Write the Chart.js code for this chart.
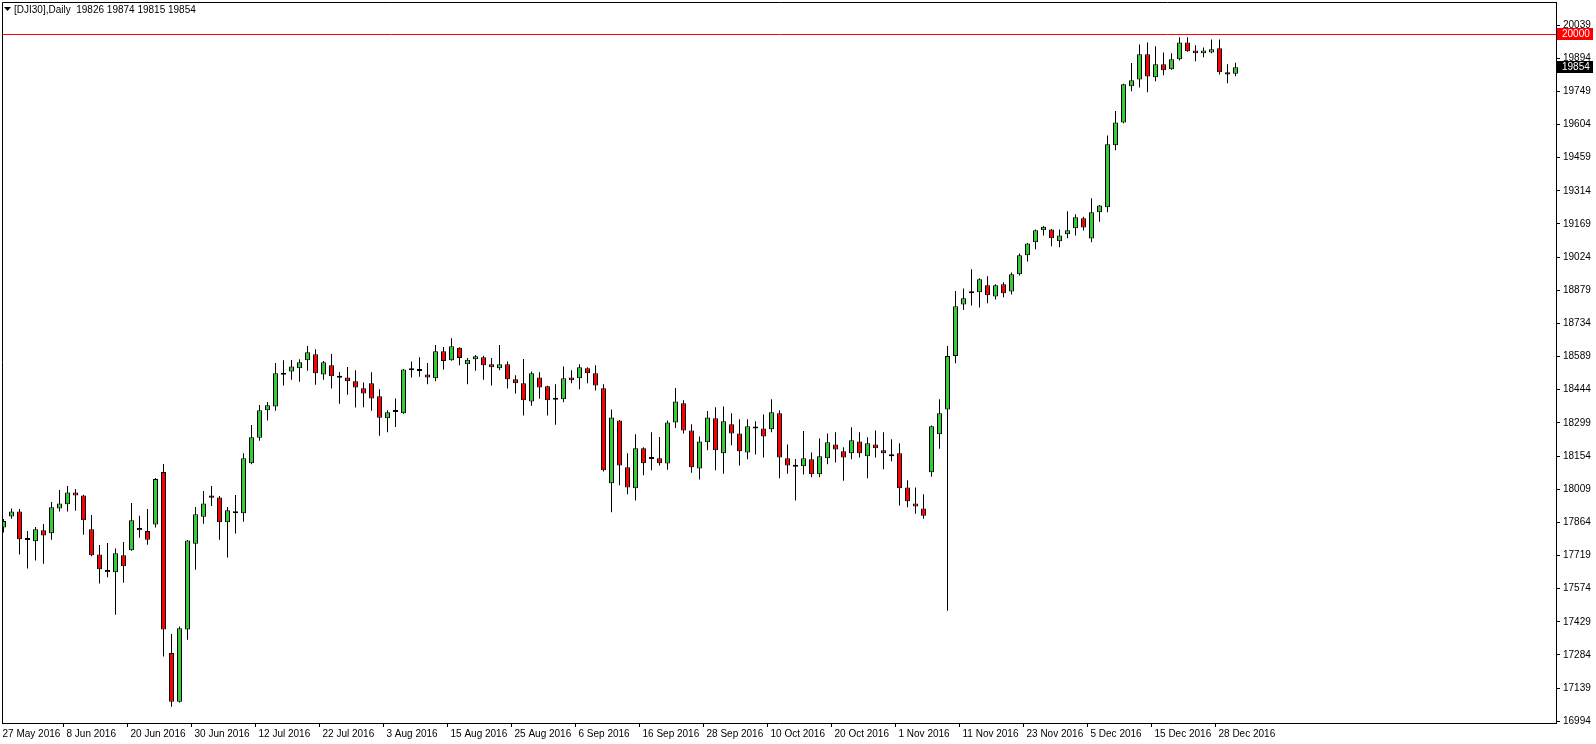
<!DOCTYPE html>
<html>
<head>
<meta charset="utf-8">
<title>DJI30 Daily</title>
<script src="https://cdn.jsdelivr.net/npm/chart.js@4.4.1/dist/chart.umd.min.js"></script>
<style>
  html, body { margin: 0; padding: 0; background: #fff; }
  canvas { display: block; }
</style>
</head>
<body>
<canvas id="priceChart" width="1596" height="744"></canvas>
<script>
const symbolTitle = "[DJI30],Daily";

// daily candles, 27 May 2016 .. 30 Dec 2016
const opens = [
  17842, 17890, 17912, 17790, 17781, 17829, 17816, 17925, 17943, 17995,
  17982, 17834, 17724, 17656, 17646, 17720, 17742, 17839, 17826, 17855,
  18084, 17293, 17080, 17395, 17771, 17889, 17982, 17973, 17864, 17912,
  17904, 18122, 18234, 18354, 18371, 18512, 18524, 18538, 18573, 18599,
  18511, 18551, 18498, 18498, 18481, 18450, 18472, 18415, 18319, 18349,
  18341, 18531, 18528, 18511, 18494, 18612, 18573, 18628, 18555, 18577,
  18586, 18555, 18538, 18555, 18490, 18472, 18393, 18498, 18459, 18402,
  18402, 18498, 18494, 18538, 18516, 18450, 18035, 18310, 18105, 18013,
  18188, 18143, 18144, 18121, 18301, 18385, 18266, 18100, 18214, 18319,
  18166, 18293, 18253, 18170, 18276, 18275, 18271, 18341, 18144, 18109,
  18109, 18140, 18074, 18144, 18205, 18175, 18166, 18218, 18153, 18205,
  18179, 18153, 18166, 18017, 17947, 17925, 18083, 18249, 18358, 18592,
  18817, 18866, 18870, 18901, 18852, 18905, 18874, 18949, 19032, 19089,
  19141, 19145, 19093, 19124, 19150, 19194, 19105, 19220, 19242, 19513,
  19613, 19771, 19801, 19911, 19810, 19867, 19845, 19889, 19963, 19928,
  19915, 19919, 19937, 19832, 19826
];
const highs = [
  17879, 17925, 17922, 17826, 17844, 17857, 17953, 18006, 18023, 18010,
  17985, 17896, 17765, 17774, 17750, 17778, 17949, 17893, 17922, 18058,
  18119, 17376, 17409, 17787, 17931, 18001, 18023, 17979, 17931, 17984,
  18166, 18290, 18377, 18390, 18561, 18573, 18574, 18577, 18635, 18621,
  18570, 18600, 18522, 18543, 18529, 18476, 18520, 18446, 18354, 18406,
  18535, 18568, 18586, 18561, 18640, 18631, 18669, 18630, 18583, 18596,
  18593, 18583, 18640, 18567, 18507, 18578, 18524, 18520, 18461, 18468,
  18546, 18529, 18555, 18542, 18551, 18468, 18358, 18312, 18166, 18249,
  18192, 18258, 18237, 18310, 18452, 18398, 18293, 18240, 18351, 18367,
  18371, 18341, 18315, 18315, 18306, 18336, 18402, 18354, 18205, 18141,
  18263, 18170, 18231, 18253, 18258, 18192, 18280, 18258, 18236, 18266,
  18258, 18227, 18210, 18048, 18017, 17987, 18288, 18402, 18635, 18876,
  18887, 18971, 18931, 18940, 18905, 18914, 18957, 19040, 19086, 19145,
  19160, 19147, 19145, 19224, 19211, 19201, 19281, 19252, 19556, 19663,
  19782, 19873, 19954, 19963, 19946, 19919, 19915, 19985, 19985, 19950,
  19941, 19976, 19976, 19867, 19874
];
const lows = [
  17820, 17880, 17723, 17662, 17697, 17683, 17788, 17911, 17911, 17915,
  17810, 17716, 17597, 17624, 17460, 17600, 17740, 17797, 17766, 17841,
  17277, 17058, 17076, 17351, 17657, 17858, 17936, 17788, 17710, 17815,
  17867, 18118, 18221, 18309, 18352, 18462, 18488, 18479, 18527, 18466,
  18488, 18449, 18383, 18422, 18366, 18367, 18352, 18243, 18258, 18281,
  18339, 18497, 18501, 18468, 18481, 18533, 18571, 18551, 18468, 18527,
  18488, 18462, 18529, 18449, 18427, 18331, 18374, 18405, 18331, 18291,
  18389, 18472, 18446, 18472, 18441, 18086, 17908, 18026, 17987, 17960,
  18070, 18092, 18113, 18094, 18277, 18253, 18081, 18051, 18179, 18092,
  18077, 18201, 18113, 18140, 18161, 18148, 18258, 18057, 18077, 17960,
  18073, 18061, 18061, 18118, 18126, 18046, 18140, 18148, 18057, 18148,
  18096, 18131, 17938, 17930, 17902, 17880, 18064, 18186, 17478, 18560,
  18793, 18812, 18804, 18822, 18839, 18848, 18861, 18944, 19005, 19058,
  19119, 19071, 19067, 19106, 19119, 19140, 19089, 19179, 19220, 19491,
  19609, 19749, 19766, 19745, 19793, 19819, 19843, 19884, 19922, 19880,
  19898, 19915, 19823, 19784, 19815
];
const closes = [
  17870, 17912, 17790, 17787, 17834, 17807, 17930, 17947, 17995, 17981,
  17873, 17720, 17659, 17646, 17729, 17672, 17873, 17829, 17788, 18054,
  17395, 17080, 17401, 17785, 17899, 17947, 17972, 17864, 17917, 17904,
  18144, 18236, 18354, 18376, 18516, 18509, 18546, 18564, 18608, 18516,
  18564, 18503, 18496, 18481, 18454, 18428, 18406, 18322, 18345, 18347,
  18533, 18529, 18526, 18498, 18612, 18570, 18634, 18583, 18575, 18590,
  18551, 18542, 18555, 18490, 18472, 18398, 18516, 18454, 18398, 18400,
  18494, 18485, 18542, 18516, 18463, 18092, 18323, 18113, 18017, 18188,
  18122, 18141, 18122, 18301, 18393, 18266, 18105, 18218, 18323, 18179,
  18306, 18253, 18175, 18284, 18274, 18240, 18345, 18148, 18113, 18107,
  18144, 18074, 18153, 18214, 18183, 18148, 18223, 18166, 18210, 18188,
  18166, 18161, 18013, 17956, 17933, 17893, 18284, 18341, 18592, 18809,
  18844, 18874, 18927, 18857, 18901, 18866, 18949, 19032, 19084, 19141,
  19157, 19106, 19119, 19141, 19198, 19154, 19220, 19250, 19517, 19613,
  19780, 19797, 19911, 19814, 19867, 19841, 19889, 19963, 19924, 19915,
  19928, 19933, 19832, 19823, 19854
];

const dateLabels = [
  "27 May 2016", "8 Jun 2016", "20 Jun 2016", "30 Jun 2016", "12 Jul 2016",
  "22 Jul 2016", "3 Aug 2016", "15 Aug 2016", "25 Aug 2016", "6 Sep 2016",
  "16 Sep 2016", "28 Sep 2016", "10 Oct 2016", "20 Oct 2016", "1 Nov 2016",
  "11 Nov 2016", "23 Nov 2016", "5 Dec 2016", "15 Dec 2016", "28 Dec 2016"
];
const barsPerDateLabel = 8;

const priceTicks = [
  16994, 17139, 17284, 17429, 17574, 17719, 17864, 18009, 18154, 18299, 18444,
  18589, 18734, 18879, 19024, 19169, 19314, 19459, 19604, 19749, 19894, 20039
];
const levelPrice = 20000;

const bullColor = "#32cd32";
const bearColor = "#ff0000";

Chart.defaults.font.family = "'Liberation Sans', Arial, sans-serif";
Chart.defaults.font.size = 10;
Chart.defaults.color = "#000";

function lastIndex() {
  return closes.length - 1;
}

// frame, 20000 level, price tags and the symbol header (MT4 style)
const chartDecor = {
  id: "chartDecor",
  afterDraw(chart) {
    const ctx = chart.ctx;
    const area = chart.chartArea;
    const yScale = chart.scales.y;
    ctx.save();

    ctx.strokeStyle = "#000";
    ctx.lineWidth = 1;
    ctx.beginPath();
    ctx.moveTo(area.left + 0.5, area.bottom);
    ctx.lineTo(area.left + 0.5, area.top + 0.5);
    ctx.lineTo(area.right, area.top + 0.5);
    ctx.stroke();

    const ly = Math.round(yScale.getPixelForValue(levelPrice)) + 0.5;
    ctx.strokeStyle = bearColor;
    ctx.beginPath();
    ctx.moveTo(area.left + 1, ly);
    ctx.lineTo(area.right, ly);
    ctx.stroke();

    const tag = (price, bg) => {
      const py = Math.round(yScale.getPixelForValue(price));
      ctx.fillStyle = bg;
      ctx.fillRect(area.right + 1, py - 6, 36, 12);
      ctx.fillStyle = "#fff";
      ctx.font = "10px 'Liberation Sans', Arial, sans-serif";
      ctx.textBaseline = "middle";
      ctx.textAlign = "left";
      ctx.fillText(String(price), area.right + 6, py + 0.5);
    };
    tag(levelPrice, bearColor);
    tag(closes[lastIndex()], "#000");

    const i = lastIndex();
    ctx.fillStyle = "#000";
    ctx.beginPath();
    ctx.moveTo(4, 7);
    ctx.lineTo(11, 7);
    ctx.lineTo(7.5, 11);
    ctx.closePath();
    ctx.fill();
    ctx.font = "10px 'Liberation Sans', Arial, sans-serif";
    ctx.textBaseline = "middle";
    ctx.textAlign = "left";
    ctx.fillText(symbolTitle + "  " + [opens[i], highs[i], lows[i], closes[i]].join(" "), 14, 10);
    ctx.restore();
  }
};

function buildChart() {
  const bodies = opens.map((o, i) => ({ x: i, y: [o, closes[i]] }));
  const wicks = highs.map((h, i) => ({ x: i, y: [lows[i], h] }));
  const bodyColors = opens.map((o, i) => (closes[i] >= o ? bullColor : bearColor));

  const ctx = document.getElementById("priceChart").getContext("2d");
  window.priceChart = new Chart(ctx, {
    type: "bar",
    data: {
      datasets: [
        {
          label: "body",
          data: bodies,
          backgroundColor: bodyColors,
          borderColor: "#000",
          borderWidth: 1,
          borderSkipped: false,
          inflateAmount: 0,
          barThickness: 5,
          maxBarThickness: 5,
          minBarLength: 2,
          grouped: false,
          order: 0
        },
        {
          label: "wick",
          data: wicks,
          backgroundColor: "#000",
          borderWidth: 0,
          inflateAmount: 0,
          barThickness: 1,
          maxBarThickness: 1,
          grouped: false,
          order: 1
        }
      ]
    },
    options: {
      responsive: false,
      animation: false,
      events: [],
      layout: { padding: { left: 2, top: 2, right: 0, bottom: 0 } },
      plugins: { legend: { display: false }, tooltip: { enabled: false } },
      scales: {
        x: {
          type: "linear",
          offset: false,
          min: -0.1875,
          max: 194.0625,
          afterBuildTicks: s => {
            s.ticks = dateLabels.map((d, k) => ({ value: k * barsPerDateLabel - 0.5 }));
          },
          afterFit: s => {
            s.height = 21;
            s.paddingLeft = 0;
            s.paddingRight = 0;
          },
          grid: { offset: false, drawOnChartArea: false, drawTicks: true, tickLength: 4, tickColor: "#000" },
          border: { display: true, color: "#000" },
          ticks: {
            autoSkip: false,
            maxRotation: 0,
            align: "start",
            labelOffset: 3,
            padding: 1,
            color: "#000",
            callback: (v, k) => dateLabels[k]
          }
        },
        y: {
          type: "linear",
          position: "right",
          min: 16986.6,
          max: 20139.6,
          afterBuildTicks: s => {
            s.ticks = priceTicks.map(v => ({ value: v }));
          },
          afterFit: s => {
            s.width = 40;
            s.paddingTop = 0;
            s.paddingBottom = 0;
          },
          grid: { drawOnChartArea: false, drawTicks: true, tickLength: 4, tickColor: "#000" },
          border: { display: true, color: "#000" },
          ticks: { padding: 3, color: "#000", callback: v => String(v) }
        }
      }
    },
    plugins: [chartDecor]
  });
}

window.onload = buildChart;
</script>
</body>
</html>
